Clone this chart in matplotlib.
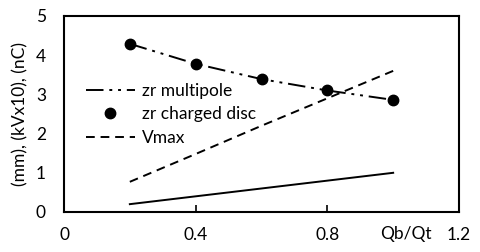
import matplotlib
matplotlib.use("Agg")
import matplotlib.pyplot as plt

# ratio Qb/Qt
qb_qt = [0.2, 0.4, 0.6, 0.8, 1.0]
zr_multipole = [4.29, 3.78, 3.39, 3.10, 2.86]
zr_charged_disc = [4.29, 3.78, 3.39, 3.10, 2.86]
vmax = [0.77, 1.48, 2.20, 2.90, 3.60]
charge = [0.2, 0.4, 0.6, 0.8, 1.0]

x_ticks = [0, 0.4, 0.8, 1.2]
y_ticks = [0, 1, 2, 3, 4, 5]

plt.rcParams["font.family"] = ["Lato", "DejaVu Sans"]

fig = plt.figure(figsize=(4.8, 2.52), dpi=100)
ax = fig.add_axes([64 / 480, 40 / 252, 395 / 480, 196 / 252])

ax.plot(qb_qt, zr_multipole, color="black", lw=1.4,
        dashes=(9, 3, 1.5, 3, 1.5, 3), label="zr multipole")
ax.plot(qb_qt, zr_charged_disc, "o", color="black", ms=7.5,
        label="zr charged disc")
ax.plot(qb_qt, vmax, color="black", lw=1.4, dashes=(4.5, 3), label="Vmax")
ax.plot(qb_qt, charge, color="black", lw=1.4)

ax.set_xlim(0, 1.2)
ax.set_ylim(0, 5)
ax.set_xticks(x_ticks)
ax.set_xticklabels(["0", "0.4", "0.8", "1.2"])
ax.set_yticks(y_ticks)
ax.tick_params(axis="x", direction="in", length=5, width=1.2, labelsize=12.5, pad=11)
ax.tick_params(axis="y", length=0, labelsize=12.5, pad=13)
for s in ax.spines.values():
    s.set_linewidth(1.5)

# axis title sits in the tick-label row, between 0.8 and 1.2
ax.text(1.04, -14.5 / 196, "Qb/Qt", transform=ax.get_xaxis_transform(),
        ha="center", va="top", fontsize=12.5)
ax.set_ylabel("(mm), (kVx10), (nC)", fontsize=12.5, labelpad=5)

ax.legend(loc="upper left", bbox_to_anchor=(0.056, 0.66), frameon=False,
          fontsize=12.5, handlelength=2.8, handletextpad=0.4,
          labelspacing=0.45, borderaxespad=0, borderpad=0)

fig.savefig("out.png", dpi=100)
